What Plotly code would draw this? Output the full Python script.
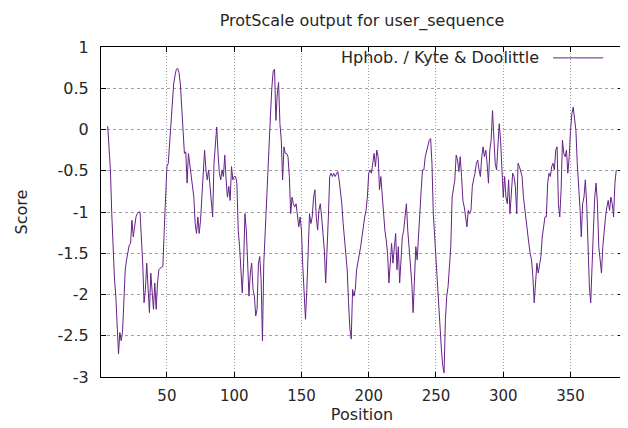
import plotly.graph_objects as go

# Position (residue window centre) and Kyte & Doolittle hydrophobicity score
position = [
    6, 7, 8, 9, 10, 11, 12, 13, 14, 15, 16, 17, 18, 19, 20, 21, 22, 23, 24, 25,
    26, 27, 28, 29, 30, 31, 32, 33, 34, 35, 36, 37, 38, 39, 40, 41, 42, 43, 44, 45,
    46, 47, 48, 49, 50, 51, 52, 53, 54, 55, 56, 57, 58, 59, 60, 61, 62, 63, 64, 65,
    66, 67, 68, 69, 70, 71, 72, 73, 74, 75, 76, 77, 78, 79, 80, 81, 82, 83, 84, 85,
    86, 87, 88, 89, 90, 91, 92, 93, 94, 95, 96, 97, 98, 99, 100, 101, 102, 103, 104, 105,
    106, 107, 108, 109, 110, 111, 112, 113, 114, 115, 116, 117, 118, 119, 120, 121, 122, 123, 124, 125,
    126, 127, 128, 129, 130, 131, 132, 133, 134, 135, 136, 137, 138, 139, 140, 141, 142, 143, 144, 145,
    146, 147, 148, 149, 150, 151, 152, 153, 154, 155, 156, 157, 158, 159, 160, 161, 162, 163, 164, 165,
    166, 167, 168, 169, 170, 171, 172, 173, 174, 175, 176, 177, 178, 179, 180, 181, 182, 183, 184, 185,
    186, 187, 188, 189, 190, 191, 192, 193, 194, 195, 196, 197, 198, 199, 200, 201, 202, 203, 204, 205,
    206, 207, 208, 209, 210, 211, 212, 213, 214, 215, 216, 217, 218, 219, 220, 221, 222, 223, 224, 225,
    226, 227, 228, 229, 230, 231, 232, 233, 234, 235, 236, 237, 238, 239, 240, 241, 242, 243, 244, 245,
    246, 247, 248, 249, 250, 251, 252, 253, 254, 255, 256, 257, 258, 259, 260, 261, 262, 263, 264, 265,
    266, 267, 268, 269, 270, 271, 272, 273, 274, 275, 276, 277, 278, 279, 280, 281, 282, 283, 284, 285,
    286, 287, 288, 289, 290, 291, 292, 293, 294, 295, 296, 297, 298, 299, 300, 301, 302, 303, 304, 305,
    306, 307, 308, 309, 310, 311, 312, 313, 314, 315, 316, 317, 318, 319, 320, 321, 322, 323, 324, 325,
    326, 327, 328, 329, 330, 331, 332, 333, 334, 335, 336, 337, 338, 339, 340, 341, 342, 343, 344, 345,
    346, 347, 348, 349, 350, 351, 352, 353, 354, 355, 356, 357, 358, 359, 360, 361, 362, 363, 364, 365,
    366, 367, 368, 369, 370, 371, 372, 373, 374, 375, 376, 377, 378, 379, 380, 381, 382, 383, 384,
]

score = [
    0.04, -0.17, -0.49, -1.02, -1.54, -1.80, -2.02, -2.42, -2.72, -2.46, -2.56, -2.46, -2.14, -1.70, -1.58, -1.46, -1.40, -1.38, -1.10, -1.30,
    -1.14, -1.06, -1.02, -1.00, -1.00, -1.30, -1.62, -2.10, -1.94, -1.62, -2.02, -2.22, -1.74, -2.02, -2.18, -1.86, -2.18, -1.86, -1.70, -1.68,
    -1.67, -1.66, -1.22, -0.73, -0.45, -0.41, -0.17, 0.11, 0.39, 0.55, 0.65, 0.73, 0.74, 0.69, 0.55, 0.31, 0.03, -0.29, -0.27, -0.65,
    -0.29, -0.41, -0.53, -0.65, -0.82, -1.14, -1.26, -1.06, -1.26, -1.10, -0.82, -0.61, -0.25, -0.49, -0.61, -0.49, -0.65, -0.90, -1.06, -0.41,
    -0.21, 0.03, -0.29, -0.53, -0.61, -0.49, -0.57, -0.31, -0.61, -0.82, -0.69, -0.86, -0.45, -0.61, -0.57, -0.57, -0.65, -1.22, -1.42, -1.66,
    -1.98, -1.62, -1.02, -1.22, -1.54, -2.02, -1.74, -1.62, -1.94, -2.02, -2.26, -2.18, -1.62, -1.54, -1.82, -2.56, -1.62, -1.22, -0.82, -0.49,
    -0.21, 0.19, 0.51, 0.71, 0.73, 0.11, 0.43, 0.57, 0.07, -0.13, -0.61, -0.21, -0.29, -0.29, -0.33, -0.57, -1.02, -0.82, -0.90, -0.94,
    -0.90, -1.06, -1.18, -1.06, -1.22, -1.66, -2.02, -2.30, -1.94, -1.38, -1.02, -1.14, -1.06, -0.82, -0.73, -1.06, -1.22, -0.98, -0.90, -1.06,
    -1.30, -1.46, -1.86, -1.54, -1.06, -0.57, -0.53, -0.57, -0.53, -0.57, -0.53, -0.51, -0.61, -0.73, -0.90, -1.14, -1.30, -1.50, -1.70, -2.10,
    -2.42, -2.54, -1.94, -2.02, -1.94, -1.70, -1.62, -1.54, -1.42, -1.30, -1.14, -1.06, -0.98, -0.82, -0.53, -0.49, -0.53, -0.41, -0.29, -0.45,
    -0.25, -0.33, -0.73, -0.57, -0.82, -1.06, -1.22, -1.34, -1.50, -1.86, -1.62, -1.38, -1.62, -1.42, -1.26, -1.70, -1.42, -1.86, -1.62, -1.30,
    -1.22, -1.06, -0.90, -1.22, -1.42, -1.62, -1.86, -2.22, -1.74, -1.42, -1.58, -1.26, -1.06, -0.73, -0.49, -0.49, -0.33, -0.25, -0.21, -0.13,
    -0.11, -0.41, -1.02, -1.30, -1.62, -1.94, -2.14, -2.42, -2.66, -2.86, -2.95, -2.30, -2.02, -1.90, -1.70, -1.42, -0.82, -0.73, -0.61, -0.31,
    -0.37, -0.51, -0.33, -0.57, -0.86, -0.94, -1.06, -1.18, -0.98, -1.02, -0.98, -0.69, -0.60, -0.53, -0.41, -0.37, -0.49, -0.57, -0.33, -0.21,
    -0.33, -0.25, -0.41, -0.65, -0.25, -0.13, 0.23, -0.21, -0.41, -0.49, -0.25, 0.07, -0.13, -0.53, -0.82, -0.57, -0.82, -0.90, -0.61, -1.02,
    -0.69, -0.53, -0.57, -0.69, -1.02, -0.41, -0.45, -0.53, -0.57, -0.82, -0.98, -1.06, -1.22, -1.38, -1.50, -1.58, -1.78, -2.10, -1.86, -1.62,
    -1.74, -1.62, -1.54, -1.30, -1.14, -1.06, -1.06, -0.65, -0.53, -0.57, -0.45, -0.41, -0.49, -0.25, -0.21, -0.90, -1.06, -0.73, -0.13, -0.29,
    -0.33, -0.25, -0.53, -0.33, -0.01, 0.19, 0.27, 0.15, -0.01, -0.41, -0.65, -0.94, -1.30, -0.90, -0.82, -0.61, -0.90, -1.54, -1.90, -2.10,
    -1.54, -1.22, -0.82, -0.65, -0.90, -1.42, -1.58, -1.74, -1.42, -1.22, -1.06, -0.94, -0.86, -0.98, -0.82, -0.90, -1.06, -0.65, -0.49,
]

x_ticks = [50, 100, 150, 200, 250, 300, 350]
y_ticks = [1, 0.5, 0, -0.5, -1, -1.5, -2, -2.5, -3]
y_tick_labels = ["1", "0.5", "0", "-0.5", "-1", "-1.5", "-2", "-2.5", "-3"]

title_text = "ProtScale output for user_sequence"
series_name = "Hphob. / Kyte & Doolittle"

LINE_COLOR = "#652286"
FONT = "DejaVu Sans"
TEXT_COLOR = "#262626"
GRID_COLOR = "#a0a0a0"

fig = go.Figure()
fig.add_trace(go.Scatter(
    x=position, y=score, mode="lines", name=series_name,
    line=dict(color=LINE_COLOR, width=1), showlegend=False,
))

axis_common = dict(
    showline=True, linecolor="#000000", linewidth=1, mirror="ticks",
    ticks="inside", ticklen=5, tickcolor="#000000", zeroline=False,
    showgrid=True, gridcolor=GRID_COLOR, gridwidth=1, automargin=False,
)

fig.update_xaxes(
    range=[1, 389], tickvals=x_ticks, griddash="1px,2px",
    tickfont=dict(family=FONT, size=15, color=TEXT_COLOR), ticklabelstandoff=5,
    title=dict(text="Position", font=dict(family=FONT, size=16, color=TEXT_COLOR), standoff=4),
    **axis_common,
)
fig.update_yaxes(
    range=[-3, 1], tickvals=y_ticks, ticktext=y_tick_labels, griddash="3px,3px",
    tickfont=dict(family=FONT, size=16, color=TEXT_COLOR), ticklabelstandoff=8,
    title=dict(text="Score", font=dict(family=FONT, size=16, color=TEXT_COLOR), standoff=25),
    **axis_common,
)

# gnuplot-style key: text followed by line sample, top right inside the plot
fig.add_annotation(
    text=series_name, xref="paper", yref="paper", x=0.843, y=0.967,
    xanchor="right", yanchor="middle", showarrow=False,
    font=dict(family=FONT, size=16, color=TEXT_COLOR),
)
fig.add_shape(
    type="line", xref="paper", yref="paper", x0=0.866, x1=0.962, y0=0.967, y1=0.967,
    line=dict(color=LINE_COLOR, width=1),
)

fig.update_layout(
    width=620, height=420,
    margin=dict(l=93, r=5, t=39, b=51),
    paper_bgcolor="#ffffff", plot_bgcolor="#ffffff",
    title=dict(text=title_text, x=0.5, xref="paper", y=0.971, yref="container",
               xanchor="center", yanchor="middle",
               font=dict(family=FONT, size=16, color=TEXT_COLOR)),
    font=dict(family=FONT, size=16, color=TEXT_COLOR),
)

fig.write_html("out.html")
